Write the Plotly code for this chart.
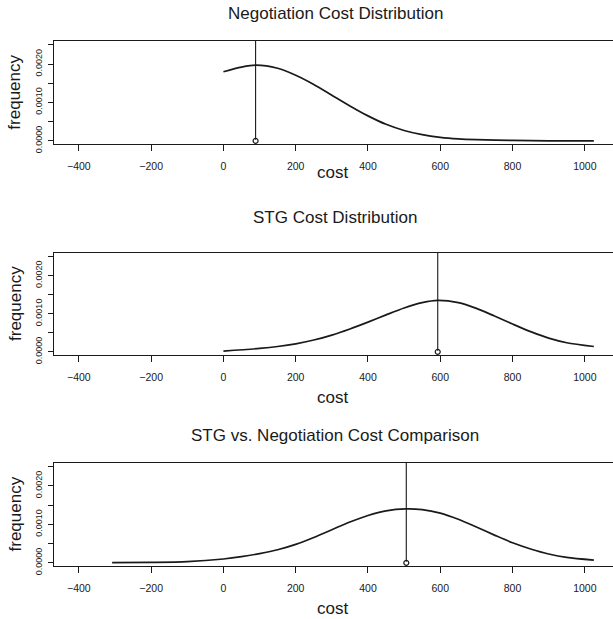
import plotly.graph_objects as go

# ---- data ----
neg_cost = [0, 50, 90, 150, 200, 250, 300, 350, 400, 450, 500, 550, 600, 650, 700, 800, 900, 1025]
neg_freq = [0.00180, 0.00192, 0.00197, 0.00189, 0.00171, 0.00147, 0.00119, 0.00091, 0.00065,
            0.00043, 0.00027, 0.00016, 0.00009, 0.00005, 0.00003, 0.00001, 0.00000, 0.00000]
neg_mean = 89

stg_cost = [0, 100, 150, 200, 250, 300, 350, 400, 450, 500, 550, 593, 650, 700, 750, 800, 850, 900, 950, 1025]
stg_freq = [0.00002, 0.00009, 0.00014, 0.00021, 0.00031, 0.00044, 0.00060, 0.00078, 0.00097, 0.00115,
            0.00129, 0.00135, 0.00129, 0.00114, 0.00094, 0.00073, 0.00053, 0.00036, 0.00024, 0.00014]
stg_mean = 593

cmp_cost = [-308, -200, -100, 0, 50, 100, 150, 200, 250, 300, 350, 400, 450, 505, 550, 600, 650,
            700, 750, 800, 850, 900, 950, 1025]
cmp_freq = [0.000003, 0.00001, 0.00003, 0.00010, 0.00016, 0.00024, 0.00034, 0.00048, 0.00066,
            0.00086, 0.00106, 0.00123, 0.00135, 0.00140, 0.00138, 0.00129, 0.00113, 0.00093,
            0.00072, 0.00052, 0.00036, 0.00023, 0.00014, 0.00007]
cmp_mean = 506

titles = ["Negotiation Cost Distribution", "STG Cost Distribution",
          "STG vs. Negotiation Cost Comparison"]
x_ticks = [-400, -200, 0, 200, 400, 600, 800, 1000]
y_ticks = [0.0, 0.0005, 0.0010, 0.0015, 0.0020, 0.0025]
y_ticktext = ["0.0000", "", "0.0010", "", "0.0020", ""]
x_title = "cost"
y_title = "frequency"

panels = [(neg_cost, neg_freq, neg_mean), (stg_cost, stg_freq, stg_mean),
          (cmp_cost, cmp_freq, cmp_mean)]

# ---- layout geometry (pixels) ----
W, H = 613, 619
box_left = 54.3
box_tops = [41, 252.7, 462.7]
box_bots = [144.3, 355.3, 566.3]
title_y = [13, 218, 435]
xlab_y = [173, 397, 608]
x_range = [-468, 1078]
y_range = [-0.00009, 0.0026]
FONT = "Liberation Sans, Arial, Helvetica, sans-serif"
INK = "#1a1a1a"

fig = go.Figure()
annotations = []
for i, (xs, ys, m) in enumerate(panels):
    n = "" if i == 0 else str(i + 1)
    xa, ya = "x" + n, "y" + n
    fig.add_trace(go.Scatter(x=xs, y=ys, mode="lines", line=dict(color=INK, width=1.7, shape="spline", smoothing=0.8),
                             xaxis=xa, yaxis=ya, showlegend=False, hoverinfo="skip"))
    fig.add_trace(go.Scatter(x=[m, m], y=[0.00003, y_range[1]], mode="lines", line=dict(color=INK, width=1.1),
                             xaxis=xa, yaxis=ya, showlegend=False, hoverinfo="skip"))
    fig.add_trace(go.Scatter(x=[m], y=[0], mode="markers",
                             marker=dict(symbol="circle-open", size=5, color=INK, line=dict(width=1.2)),
                             xaxis=xa, yaxis=ya, showlegend=False, hoverinfo="skip"))
    yd = [1 - box_bots[i] / H, 1 - box_tops[i] / H]
    fig.update_layout(**{
        "xaxis" + n: dict(domain=[box_left / W, 1], range=x_range, anchor=ya,
                          tickvals=x_ticks, ticks="outside", ticklen=5.5, tickwidth=1, tickcolor=INK,
                          showline=True, linecolor=INK, linewidth=1.3, mirror=True,
                          showgrid=False, zeroline=False, ticklabelstandoff=6,
                          tickfont=dict(family=FONT, size=10.5, color=INK)),
        "yaxis" + n: dict(domain=yd, range=y_range, anchor=xa,
                          tickvals=y_ticks, ticktext=y_ticktext, tickangle=-90,
                          ticks="outside", ticklen=5.3, tickwidth=1, tickcolor=INK,
                          showline=True, linecolor=INK, linewidth=1.3, mirror=False,
                          showgrid=False, zeroline=False, ticklabelstandoff=2,
                          tickfont=dict(family=FONT, size=9, color=INK)),
    })
    annotations.append(dict(text=titles[i], x=335 / W, y=1 - title_y[i] / H, xref="paper", yref="paper",
                            xanchor="center", yanchor="middle", showarrow=False,
                            font=dict(family=FONT, size=17, color=INK)))
    annotations.append(dict(text=x_title, x=332 / W, y=1 - xlab_y[i] / H, xref="paper", yref="paper",
                            xanchor="center", yanchor="middle", showarrow=False,
                            font=dict(family=FONT, size=17, color=INK)))
    annotations.append(dict(text=y_title, x=15 / W, y=1 - (box_tops[i] + box_bots[i]) / 2 / H,
                            xref="paper", yref="paper", textangle=-90,
                            xanchor="center", yanchor="middle", showarrow=False,
                            font=dict(family=FONT, size=17, color=INK)))

fig.update_layout(width=W, height=H, margin=dict(l=0, r=0, t=0, b=0, autoexpand=False),
                  paper_bgcolor="white", plot_bgcolor="white", annotations=annotations)

fig.write_html("out.html", config={"displayModeBar": False},
               post_script="document.body.style.margin='0px';document.body.style.overflow='hidden';")
